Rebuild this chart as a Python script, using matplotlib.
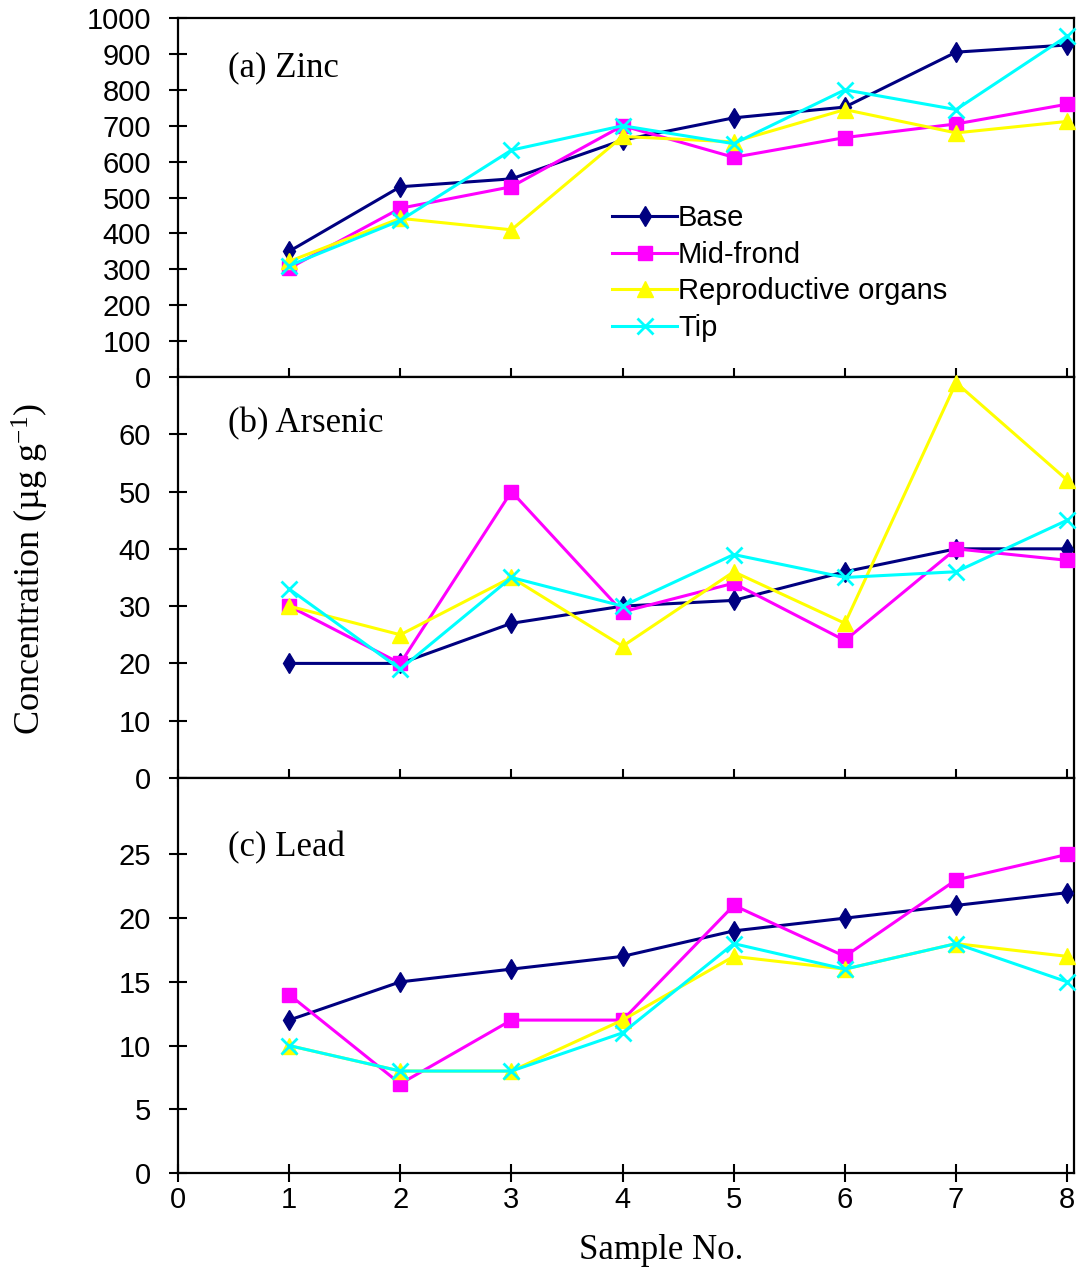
import numpy as np
import matplotlib
matplotlib.use('Agg')
import matplotlib.pyplot as plt

##      Data       ##
samples = [1, 2, 3, 4, 5, 6, 7, 8]
series = ['Base', 'Mid-frond', 'Reproductive organs', 'Tip']

zinc_base = [350, 530, 552, 660, 722, 752, 905, 925]
zinc_mid = [303, 470, 530, 700, 612, 667, 705, 760]
zinc_repro = [322, 442, 410, 670, 655, 745, 680, 712]
zinc_tip = [310, 436, 632, 700, 650, 800, 745, 950]

as_base = [20, 20, 27, 30, 31, 36, 40, 40]
as_mid = [30, 20, 50, 29, 34, 24, 40, 38]
as_repro = [30, 25, 35, 23, 36, 27, 69, 52]
as_tip = [33, 19, 35, 30, 39, 35, 36, 45]

pb_base = [12, 15, 16, 17, 19, 20, 21, 22]
pb_mid = [14, 7, 12, 12, 21, 17, 23, 25]
pb_repro = [10, 8, 8, 12, 17, 16, 18, 17]
pb_tip = [10, 8, 8, 11, 18, 16, 18, 15]

panels = [
    ('(a) Zinc', [zinc_base, zinc_mid, zinc_repro, zinc_tip], 1000, np.arange(0, 1001, 100)),
    ('(b) Arsenic', [as_base, as_mid, as_repro, as_tip], 70, np.arange(0, 61, 10)),
    ('(c) Lead', [pb_base, pb_mid, pb_repro, pb_tip], 31, np.arange(0, 26, 5)),
]

##      Styles       ##
colors = ['#000080', '#FF00FF', '#FFFF00', '#00FFFF']
markers = ['d', 's', '^', 'x']
msizes = [10, 10, 11, 12]

plt.rcParams['mathtext.fontset'] = 'custom'
plt.rcParams['mathtext.rm'] = 'Liberation Serif'
plt.rcParams['mathtext.it'] = 'Liberation Serif:italic'

fig = plt.figure(figsize=(10.82, 12.71), dpi=100)

# axes boxes in figure fraction (left, bottom, width, height)
left, width = 0.1645, 0.828
boxes = [(0.7034, 0.9858), (0.3879, 0.7034), (0.0771, 0.3879)]
text_y = [0.861, 0.883, 0.823]

axs = []
for k, (title, data, ymax, yticks) in enumerate(panels):
    b, t = boxes[k]
    ax = fig.add_axes([left, b, width, t - b])
    for i in range(4):
        ax.plot(samples, data[i], color=colors[i], marker=markers[i], ms=msizes[i],
                mew=2 if markers[i] == 'x' else 1, mec=colors[i], lw=2.2,
                label=series[i], clip_on=False, zorder=3 + i)
    ax.set_xlim(0, 8.06)
    ax.set_ylim(0, ymax)
    ax.set_yticks(yticks)
    ax.set_xticks(range(0, 9))
    ax.tick_params(direction='inout', length=13, width=1.5, labelsize=21,
                   top=False, right=False)
    ax.tick_params(axis='y', pad=13)
    ax.tick_params(axis='x', pad=3)
    for s in ax.spines.values():
        s.set_linewidth(1.6)
    for lab in ax.get_xticklabels() + ax.get_yticklabels():
        lab.set_fontfamily('Liberation Sans')
    if k < 2:
        ax.tick_params(axis='x', labelbottom=False)
    ax.text(0.056, text_y[k], title, transform=ax.transAxes, family='Liberation Serif',
            fontsize=25, va='center', ha='left')
    axs.append(ax)

leg = axs[0].legend(loc='upper left', bbox_to_anchor=(0.485, 0.482), frameon=False,
                    prop={'family': 'Liberation Sans', 'size': 21}, handlelength=2.2,
                    handletextpad=0.05, labelspacing=0.3, borderpad=0, borderaxespad=0)

fig.text(0.028, 0.552, 'Concentration (\u00b5g g$^{-1}$)', rotation=90, va='center', ha='center',
         family='Liberation Serif', fontsize=26)
fig.text(0.611, 0.0165, 'Sample No.', va='center', ha='center', family='Liberation Serif',
         fontsize=25)

fig.savefig('out.png', dpi=100)
